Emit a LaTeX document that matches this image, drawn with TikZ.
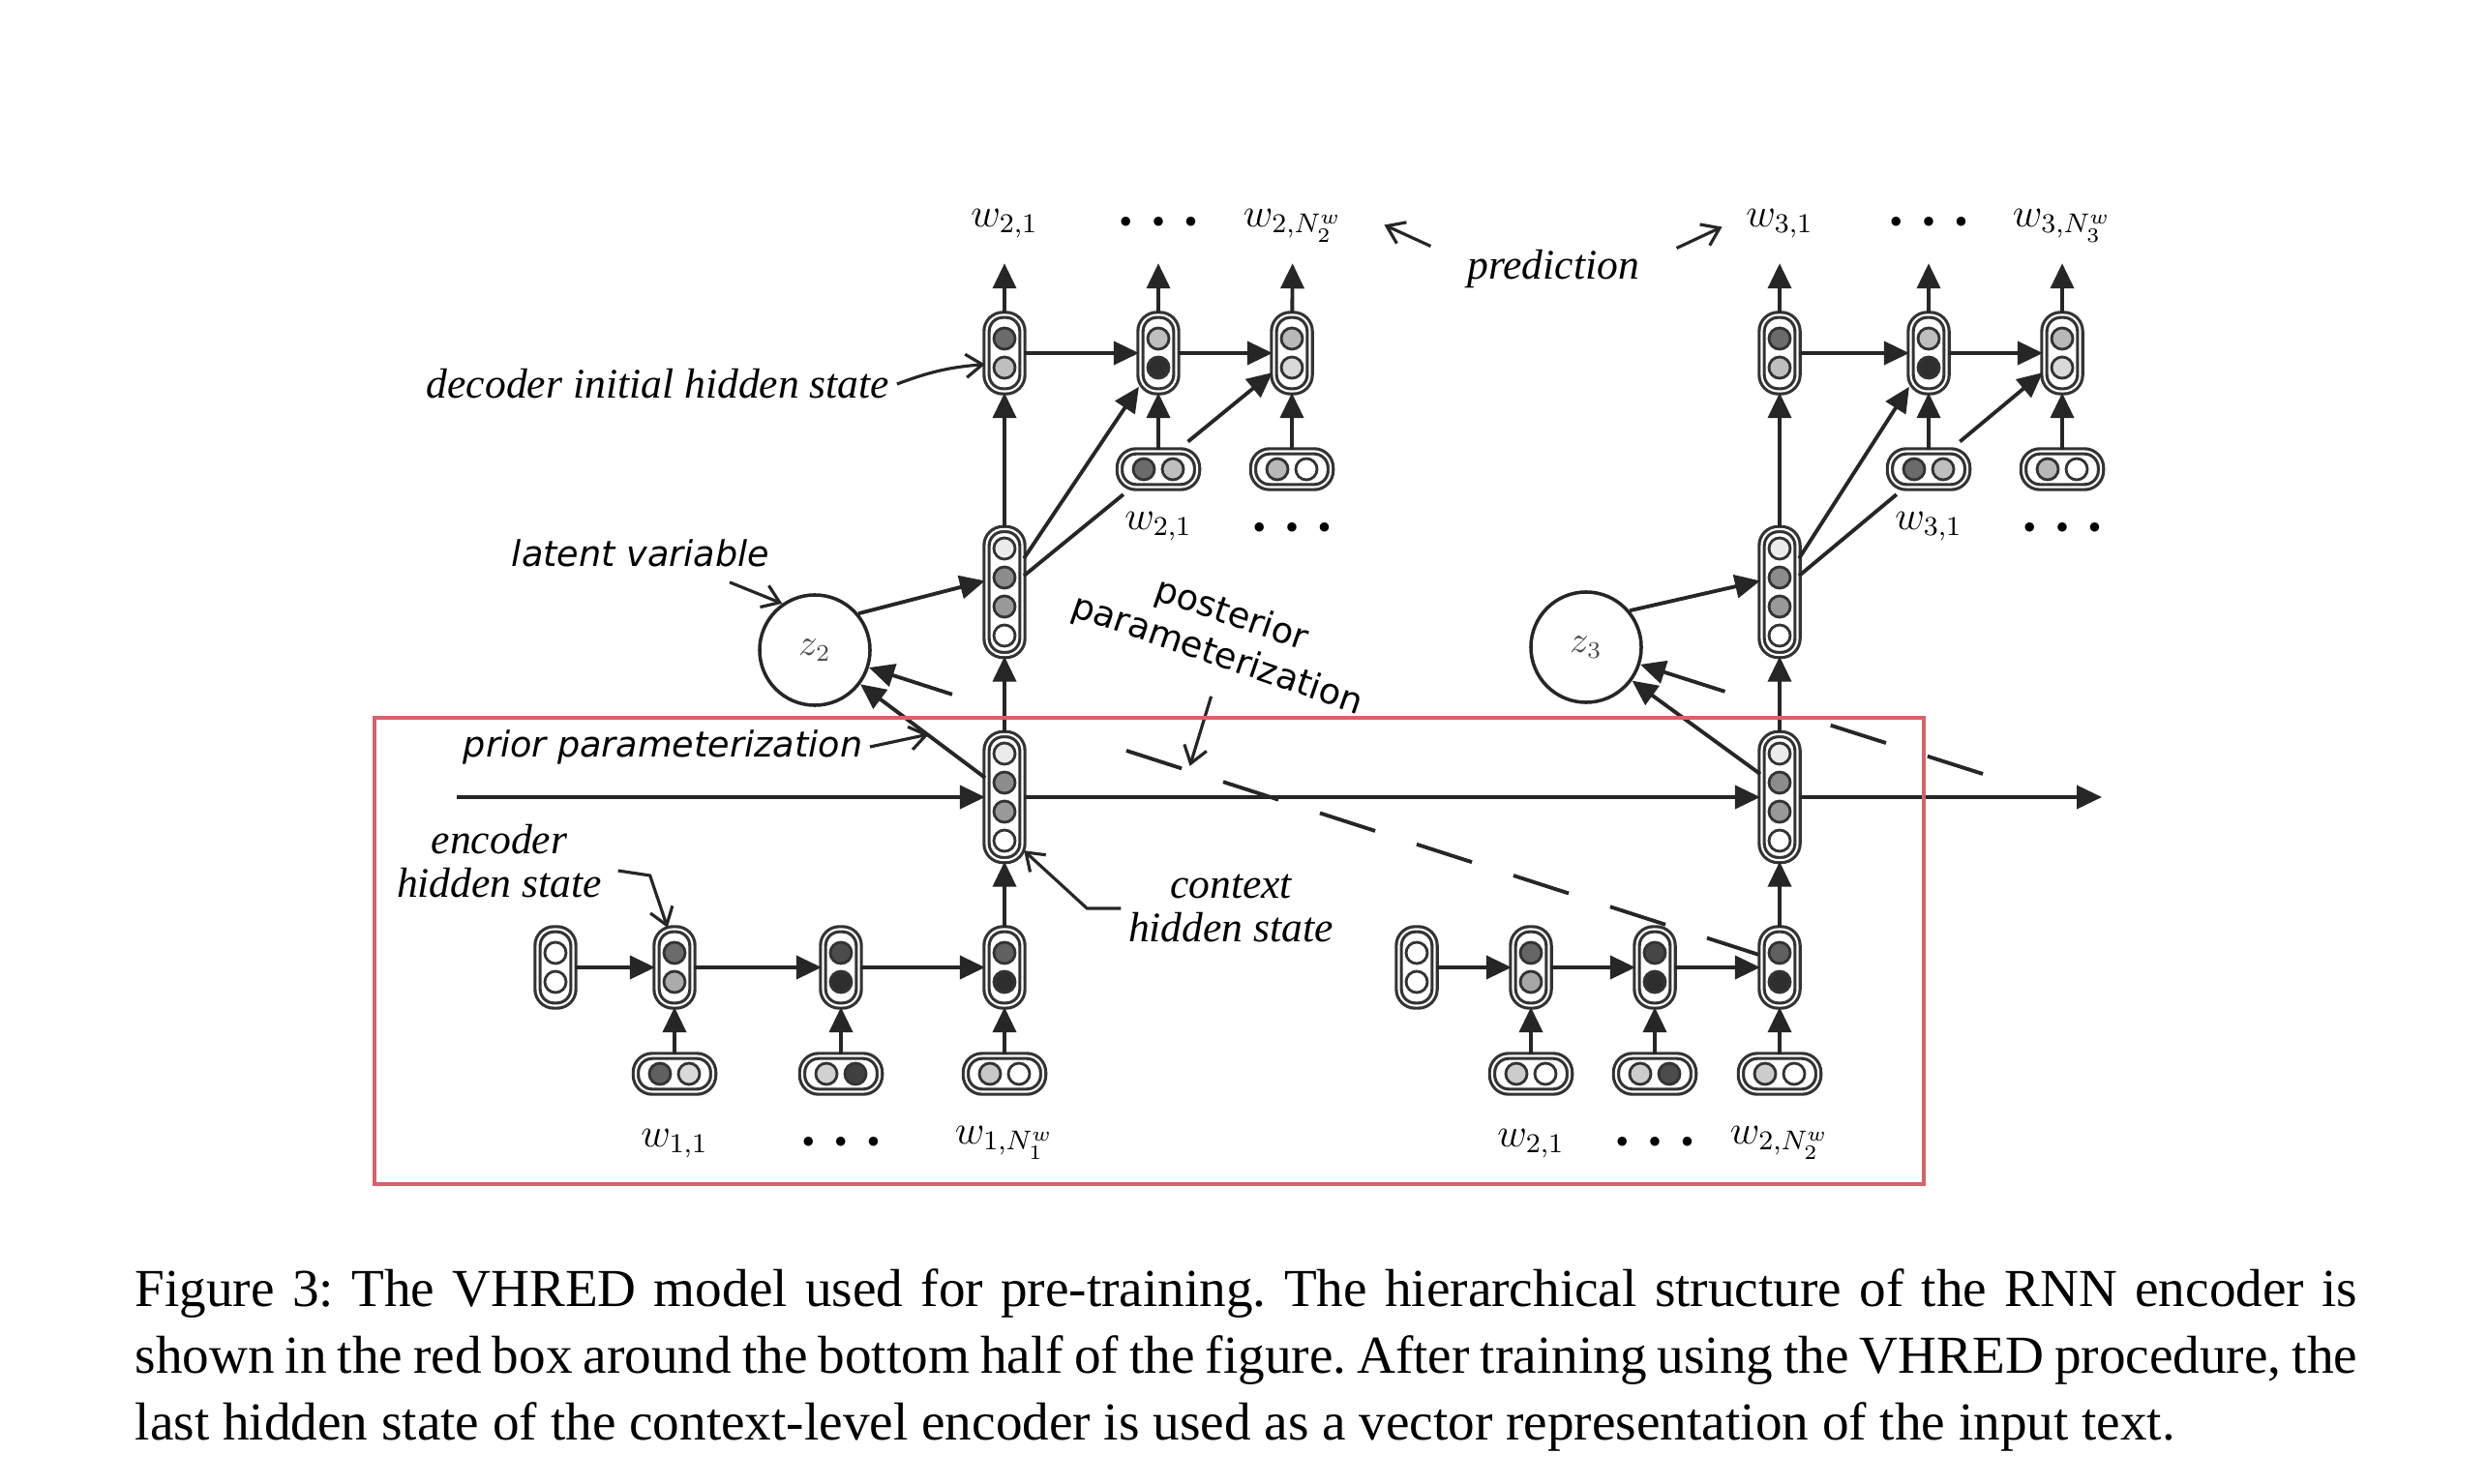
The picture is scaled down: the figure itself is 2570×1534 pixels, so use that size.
\documentclass[tikz,border=0pt]{standalone}
\usepackage[no-math]{fontspec}
\setmainfont{Liberation Serif}
\newfontfamily\dejavu{DejaVu Sans}
\usetikzlibrary{arrows.meta, calc}
\definecolor{boxred}{RGB}{214,98,108}
\newcommand\wdots{{\scriptscriptstyle\bullet}\hspace{0.5em}{\scriptscriptstyle\bullet}\hspace{0.5em}{\scriptscriptstyle\bullet}}

\begin{document}
\begin{tikzpicture}[x = 0.01cm, y = -0.01cm,
  cell/.style = {draw = black!80, line width = 0.9pt, double = white,
    double distance = 0.6pt, fill = white, rounded corners = 0.17cm, inner sep = 0pt},
  vcell/.style = {cell, minimum width = 0.37cm, minimum height = 0.79cm},
  hcell/.style = {cell, minimum width = 0.8cm, minimum height = 0.37cm},
  qcell/.style = {cell, minimum width = 0.37cm, minimum height = 1.3cm},
  bead/.style = {draw = black!80, line width = 0.8pt},
  wire/.style = {draw = black!85, line width = 1.1pt},
  arr/.style = {wire, -{Triangle[length = 0.26cm, width = 0.24cm]}},
  ptr/.style = {draw = black!85, line width = 0.9pt, -{Straight Barb[length = 0.17cm, width = 0.24cm]}},
  post/.style = {wire, dash pattern = on 0.6cm off 0.45cm},
  word/.style = {font = \fontsize{11.5}{13}\selectfont, text height = 0.18cm,
    text depth = 0.07cm, inner sep = 0.1cm},
  note/.style = {font = \fontsize{12.4}{12.8}\selectfont\itshape, align = center, inner sep = 2pt},
  snote/.style = {font = \fontsize{10.4}{12.5}\selectfont\dejavu, align = center, inner sep = 2pt},
  latent/.style = {circle, draw = black!85, line width = 1pt, fill = white,
    minimum size = 1.14cm, inner sep = 0pt, text = black!70, font = \fontsize{10.5}{12}\selectfont}]

\useasboundingbox (0, 0) rectangle (2570, 1534);

% posterior paths, behind everything
\draw[post] (1821, 988) coordinate (e23in) -- ($(842, 672)!0.3!(e23in)$);
\coordinate (nextpost) at (2049, 800);

% latent variables
\node[latent] (z2) at (842, 672) {$z_2$};
\node[latent] (z3) at (1639, 669) {$z_3$};

% recurrent steps, two units stacked
\foreach \n/\x/\y/\a/\b in {dec21/1038/365/black!58/black!25, dec22/1197/365/black!25/black!82,
    dec23/1335/365/black!28/black!15, dec31/1839/365/black!58/black!25,
    dec32/1993/365/black!25/black!82, dec33/2131/365/black!28/black!15,
    e10/574/1000/white/white, e11/697/1000/black!58/black!33,
    e12/869/1000/black!70/black!82, e13/1038/1000/black!62/black!82,
    e20/1464/1000/white/white, e21/1582/1000/black!60/black!35,
    e22/1710/1000/black!72/black!82, e23/1839/1000/black!62/black!82} {
  \node[vcell] (\n) at (\x, \y) {};
  \begin{scope}[shift = {(\x, \y)}]
    \draw[bead, fill = \a] (0, -15) circle (0.11cm);
    \draw[bead, fill = \b] (0, 15) circle (0.11cm);
  \end{scope}
}

% word embeddings, two units side by side
\foreach \n/\x/\y/\a/\b in {in22/1197/485/black!58/black!25, in23/1335/485/black!28/white,
    in32/1993/485/black!58/black!25, in33/2131/485/black!28/white,
    i11/697/1110/black!62/black!15, i12/869/1110/black!18/black!75,
    i13/1038/1110/black!22/white, i21/1582/1110/black!20/white,
    i22/1710/1110/black!20/black!70, i23/1839/1110/black!20/white} {
  \node[hcell] (\n) at (\x, \y) {};
  \begin{scope}[shift = {(\x, \y)}]
    \draw[bead, fill = \a] (-15, 0) circle (0.11cm);
    \draw[bead, fill = \b] (15, 0) circle (0.11cm);
  \end{scope}
}

% context and latent-augmented states, four units
\foreach \n/\x/\y in {lat2/1038/612, lat3/1839/612, ctx1/1038/824, ctx2/1839/824} {
  \node[qcell] (\n) at (\x, \y) {};
  \begin{scope}[shift = {(\x, \y)}]
    \foreach \c/\d in {-45/black!8, -15/black!45, 15/black!40, 45/white}
      \draw[bead, fill = \d] (0, \c) circle (0.11cm);
  \end{scope}
}

% word labels
\foreach \n/\x/\y/\t in {tw21/1038/229/{w_{2,1}}, td2/1197/229/{\wdots},
    tw2N/1336/229/{w_{2,N_2^w}}, tw31/1839/229/{w_{3,1}},
    td3/1993/229/{\wdots}, tw3N/2131/229/{w_{3,N_3^w}},
    bw21/1197/542/{w_{2,1}}, bd2/1335/545/{\wdots},
    bw31/1993/542/{w_{3,1}}, bd3/2131/545/{\wdots},
    ew11/697/1180/{w_{1,1}}, ed1/869/1180/{\wdots},
    ew1N/1038/1177/{w_{1,N_1^w}}, ew21/1582/1180/{w_{2,1}},
    ed2/1710/1180/{\wdots}, ew2N/1839/1177/{w_{2,N_2^w}}}
  \node[word] (\n) at (\x, \y) {$\t$};

% connections
\foreach \a/\b in {dec21/dec22, dec22/dec23, dec31/dec32, dec32/dec33,
    e10/e11, e11/e12, e12/e13, e20/e21, e21/e22, e22/e23,
    in22/dec22, in23/dec23, in32/dec32, in33/dec33,
    i11/e11, i12/e12, i13/e13, i21/e21, i22/e22, i23/e23,
    e13/ctx1, e23/ctx2, ctx1/lat2, ctx2/lat3, lat2/dec21, lat3/dec31, ctx1/ctx2}
  \draw[arr] (\a) -- (\b);
\foreach \a/\b in {dec21/tw21, dec22/td2, dec23/tw2N, dec31/tw31, dec32/td3, dec33/tw3N}
  \draw[arr, shorten > = 0.2cm] (\a) -- (\b);
\foreach \l/\p/\q in {lat2/dec22/dec23, lat3/dec32/dec33} {
  \draw[arr] (\l.60) -- (\p.240);
  \draw[wire] (\l.40) -- ($(\l.40)!0.4!(\q.225)$);
  \draw[arr] ($(\l.40)!0.66!(\q.225)$) -- (\q.225);
}
\draw[arr] (z2.40) -- (lat2.150);
\draw[arr] (z3.40) -- (lat3.150);
\draw[arr] (ctx1.135) -- (z2);
\draw[arr] (ctx2.130) -- (z3);
\draw[arr] ($(z2)!0.145!(e23in)$) -- (z2);
\draw[post] (nextpost) -- ($(z3)!0.56!(nextpost)$);
\draw[arr] ($(z3)!0.35!(nextpost)$) -- (z3);

% context recurrence
\coordinate (cin) at (472, 824);
\coordinate (cout) at (2172, 824);
\draw[arr] (cin) -- (ctx1);
\draw[arr] (ctx2) -- (cout);

% annotations
\node[note] (ldec) at (680, 397) {decoder initial hidden state};
\node[note] (lpred) at (1605, 278) {prediction};
\node[note] (lenc) at (516, 890) {encoder\\hidden state};
\node[note] (lctx) at (1272, 939) {context\\hidden state};
\node[snote] (llat) at (662, 572) {\itshape latent variable};
\node[snote] (lprior) at (685, 772) {\itshape prior parameterization};
\node[snote, rotate = -19] (lpost) at (1265, 657) {posterior\\parameterization};

\draw[ptr] (ldec.east) to[bend left = 8] (dec21.210);
\draw[ptr] ($(lpred.north west) + (-30, 4)$) -- ++(-48, -22);
\draw[ptr] ($(lpred.north east) + (31, 6)$) -- ++(47, -22);
\draw[ptr] ($(llat.south) + (92, 8)$) -- (z2.125);
\draw[ptr] (lprior.east) -- ++(61, -13);
\draw[ptr] ($(lpost.south) + (2, 18)$) -- ++(-22, 72);
\draw[ptr] ($(lenc.east) + (9, 10)$) -- ++(33, 5) -- (e11.100);
\draw[ptr] (lctx.west) -- ++(-35, 0) -- (ctx1.-70);

% the encoder part
\draw[boxred, line width = 1.4pt] (387, 742) rectangle (1988, 1224);

% caption
\node[anchor = north west, text width = 22.95cm, align = justify, inner sep = 0pt,
  font = \fontsize{15.7}{19.6}\selectfont\frenchspacing] (caption) at (139, 1311)
  {\spaceskip=0.25em plus 0.3em minus 0.12em\relax
   Figure 3: The VHRED model used for pre-training. The hierarchical structure of the RNN encoder is\linebreak
   shown in the red box around the bottom half of the figure. After training using the VHRED procedure, the\linebreak
   last hidden state of the context-level encoder is used as a vector representation of the input text.};

\end{tikzpicture}
\end{document}
